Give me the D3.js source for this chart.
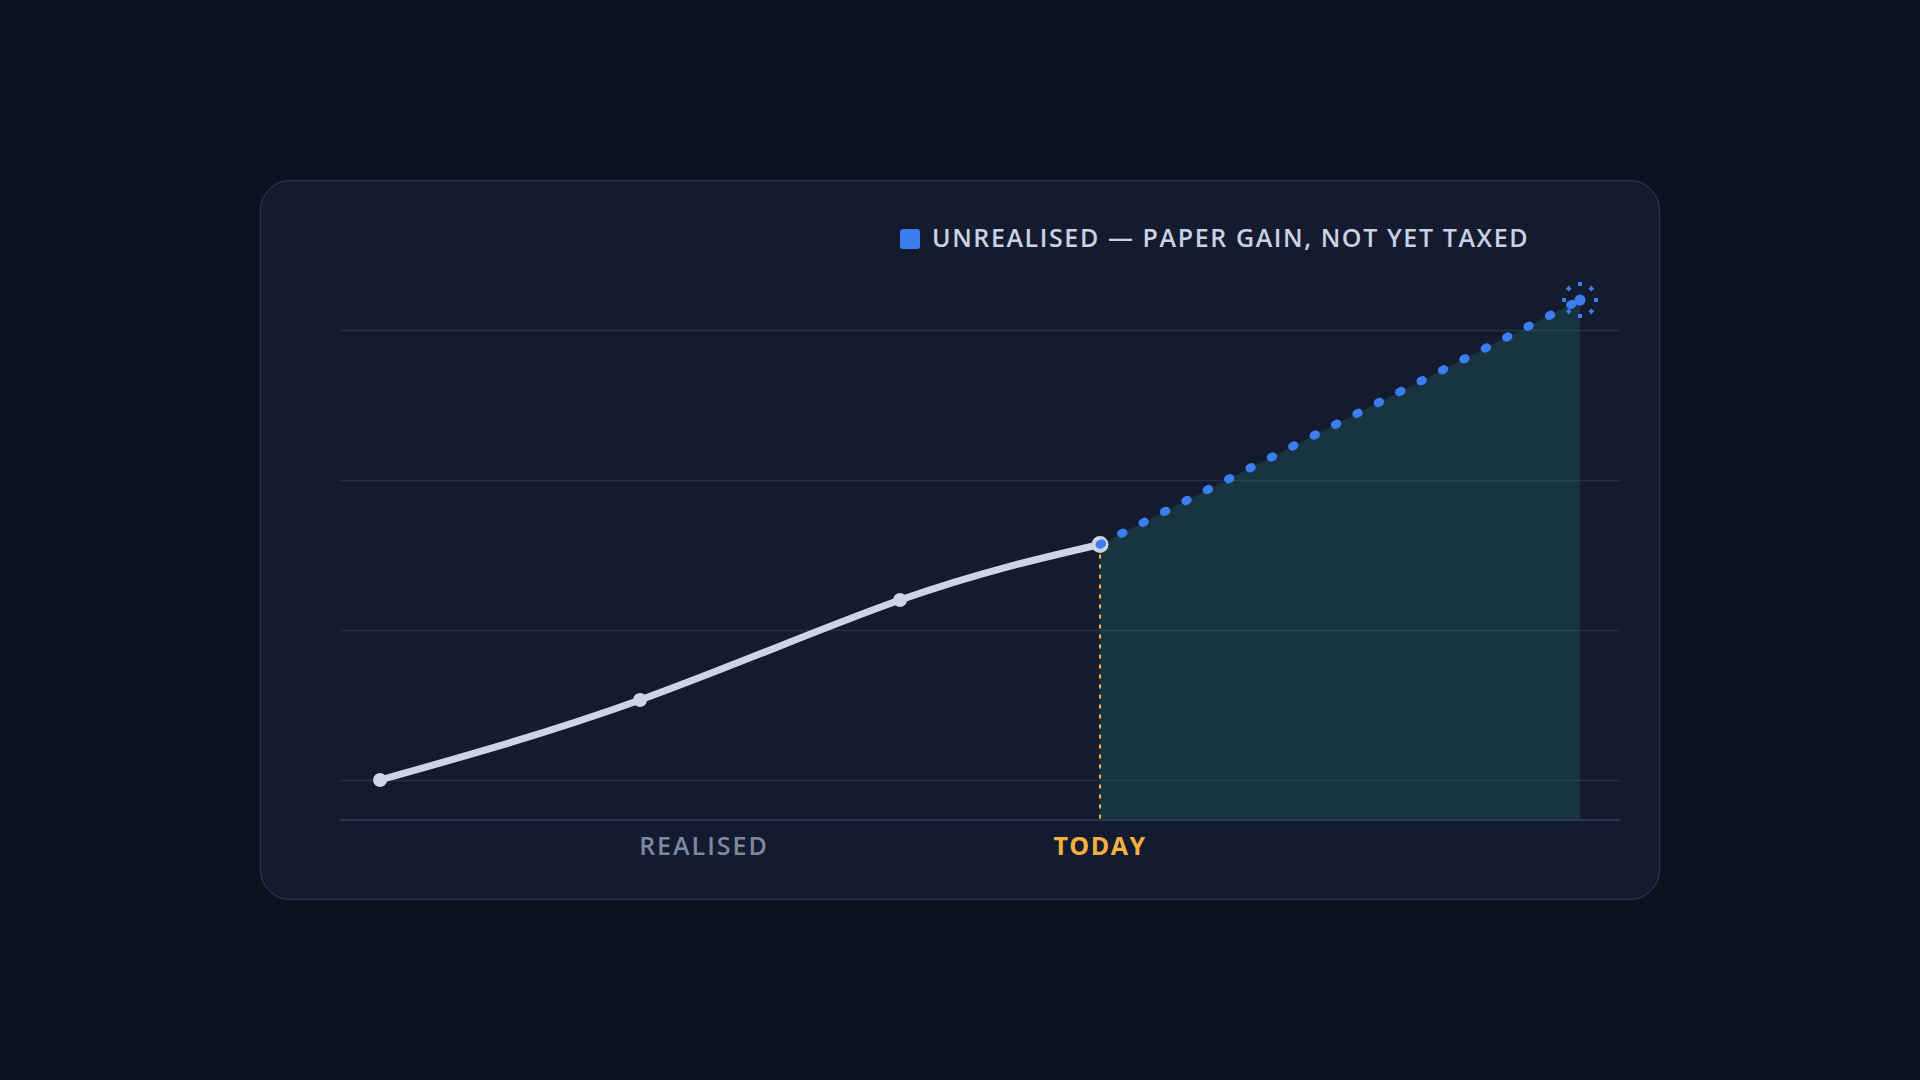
<!DOCTYPE html>
<html>
<head>
<meta charset="utf-8">
<script src="https://cdn.jsdelivr.net/npm/d3@7"></script>
<style>
  html, body { margin: 0; padding: 0; background: #0c121f; }
  svg { display: block; }
</style>
</head>
<body>
<svg id="chart" width="1920" height="1080"></svg>
<script>
// months since start -> value (arbitrary units, 0 = first gridline)
const realisedMonths = [1, 7.5, 14, 19];
const realisedValues = [0, 16, 36, 47.1];
const unrealisedMonths = [19, 31];
const unrealisedValues = [47.1, 96];
const gridValues = [0, 30, 60, 90];
const axisLabels = ["REALISED", "TODAY"];
const axisLabelMonths = [9.1, 19];
const legendLabel = "UNREALISED \u2014 PAPER GAIN, NOT YET TAXED";

const svg = d3.select("#chart");

const card = { x: 260, y: 180, w: 1400, h: 720 };
const margin = { top: 150, right: 40, bottom: 80, left: 80 };
const plotLeft = card.x + margin.left,
    plotRight = card.x + card.w - margin.right,
    baseY = card.y + card.h - margin.bottom;

svg.append("rect")
    .attr("x", card.x + 0.5)
    .attr("y", card.y + 0.5)
    .attr("width", card.w - 1)
    .attr("height", card.h - 1)
    .attr("rx", 30)
    .attr("fill", "#151b2e")
    .attr("stroke", "#252f47")
    .attr("stroke-width", 1.5);

const x = d3.scaleLinear().domain([0, 32]).range([plotLeft, plotRight]);
const y = d3.scaleLinear().domain([-8, 92]).range([baseY, baseY - 500]);

const realised = realisedMonths.map((m, i) => [m, realisedValues[i]]);
const unrealised = unrealisedMonths.map((m, i) => [m, unrealisedValues[i]]);

// unrealised area under the projection
const area = d3.area()
    .x(d => x(d[0]))
    .y0(baseY)
    .y1(d => y(d[1]));

svg.append("path")
    .datum(unrealised)
    .attr("d", area)
    .attr("fill", "#183440");

// gridlines
svg.append("g")
    .selectAll("line")
    .data(gridValues)
    .enter()
    .append("line")
    .attr("x1", plotLeft)
    .attr("x2", plotRight)
    .attr("y1", d => Math.round(y(d)) + 0.5)
    .attr("y2", d => Math.round(y(d)) + 0.5)
    .attr("stroke", "rgba(70,90,120,0.35)")
    .attr("stroke-width", 1.5);

// baseline
svg.append("line")
    .attr("x1", plotLeft)
    .attr("x2", plotRight)
    .attr("y1", baseY)
    .attr("y2", baseY)
    .attr("stroke", "#2c3752")
    .attr("stroke-width", 2);

// today marker
const todayM = realisedMonths[realisedMonths.length - 1],
    todayV = realisedValues[realisedValues.length - 1];

svg.append("line")
    .attr("x1", x(todayM))
    .attr("x2", x(todayM))
    .attr("y1", y(todayV))
    .attr("y2", baseY)
    .attr("stroke", "#f5b042")
    .attr("stroke-width", 2)
    .attr("stroke-dasharray", "4 6");

// realised line
const line = d3.line()
    .x(d => x(d[0]))
    .y(d => y(d[1]))
    .curve(d3.curveNatural);

svg.append("path")
    .datum(realised)
    .attr("d", line)
    .attr("fill", "none")
    .attr("stroke", "#cbd5e4")
    .attr("stroke-width", 7)
    .attr("stroke-linecap", "round");

svg.append("g")
    .selectAll("circle")
    .data(realised.slice(0, -1))
    .enter()
    .append("circle")
    .attr("cx", d => x(d[0]))
    .attr("cy", d => y(d[1]))
    .attr("r", 7)
    .attr("fill", "#cbd5e4");

svg.append("circle")
    .attr("cx", x(todayM))
    .attr("cy", y(todayV))
    .attr("r", 6.5)
    .attr("fill", "#f5b042")
    .attr("stroke", "#cbd5e4")
    .attr("stroke-width", 4);

// unrealised dotted projection
svg.append("path")
    .datum(unrealised)
    .attr("d", d3.line().x(d => x(d[0])).y(d => y(d[1])))
    .attr("fill", "none")
    .attr("stroke", "#3b7ef2")
    .attr("stroke-width", 8.5)
    .attr("stroke-linecap", "round")
    .attr("stroke-dasharray", "2 22");

const end = unrealised[unrealised.length - 1];
svg.append("circle")
    .attr("cx", x(end[0]))
    .attr("cy", y(end[1]))
    .attr("r", 5.5)
    .attr("fill", "#3b7ef2");

// sparkle ring around the end point
svg.append("g")
    .selectAll("rect")
    .data(d3.range(8))
    .enter()
    .append("rect")
    .attr("x", -2)
    .attr("y", -2)
    .attr("width", 4)
    .attr("height", 4)
    .attr("fill", "#3b7ef2")
    .attr("transform", i => {
        const a = i * Math.PI / 4 - Math.PI / 2;
        return `translate(${x(end[0]) + 16 * Math.cos(a)},${y(end[1]) + 16 * Math.sin(a)}) rotate(${i % 2 ? 45 : 0})`;
    });

// axis labels
svg.append("g")
    .selectAll("text")
    .data(axisLabels)
    .enter()
    .append("text")
    .attr("x", (d, i) => x(axisLabelMonths[i]))
    .attr("y", baseY + 35)
    .attr("text-anchor", "middle")
    .style("font-family", "'Open Sans', sans-serif")
    .style("font-size", "25px")
    .style("font-weight", (d, i) => i === 1 ? 700 : 600)
    .style("letter-spacing", (d, i) => i === 1 ? "1.5px" : "2px")
    .attr("fill", (d, i) => i === 1 ? "#f5b042" : "#7d89a2")
    .text(d => d);

// legend
const legend = svg.append("g").attr("transform", "translate(900,229)");
legend.append("rect")
    .attr("width", 20)
    .attr("height", 20)
    .attr("rx", 3)
    .attr("fill", "#3b7ef2");
legend.append("text")
    .attr("x", 32)
    .attr("y", 18)
    .style("font-family", "'Open Sans', sans-serif")
    .style("font-size", "25px")
    .style("font-weight", 600)
    .style("letter-spacing", "1.6px")
    .attr("fill", "#c9d2e2")
    .text(legendLabel);
</script>
</body>
</html>
